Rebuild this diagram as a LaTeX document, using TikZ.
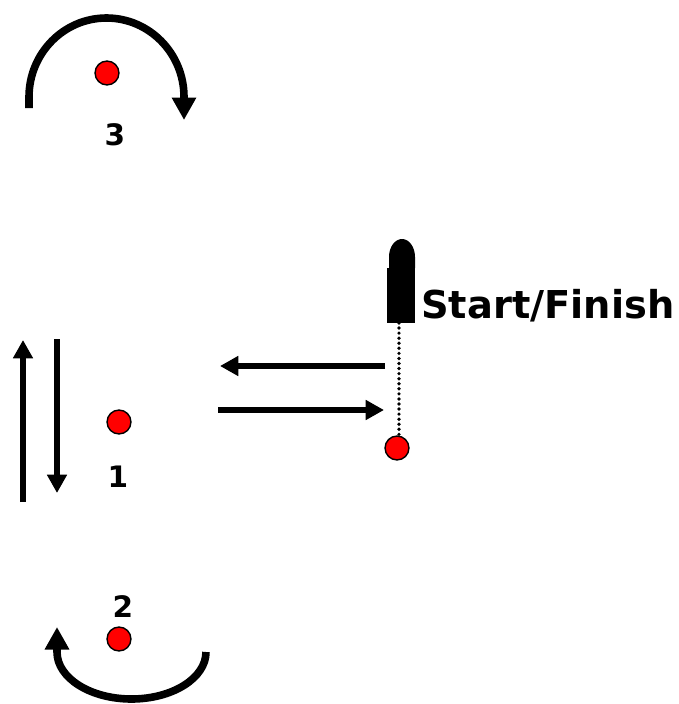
\documentclass[tikz,border=0pt]{standalone}
\usepackage{fontspec}
\setmainfont{DejaVu Sans}
\usetikzlibrary{arrows.meta}

\begin{document}
\begin{tikzpicture}[x=0.025cm, y=0.025cm, >={Triangle[length=13pt,width=13.5pt]},
		cone/.style={circle, draw, fill=red, line width=1pt, minimum size=17pt, inner sep=0pt},
		run/.style={->, line width=4.6pt},
		turn/.style={-{Triangle[length=16pt,width=16.5pt]}, line width=5.4pt},
		num/.style={font=\fontsize{21}{21}\selectfont\bfseries, inner sep=0pt}]
		\useasboundingbox (0,0) rectangle (678,-704);

		\node[cone] (cone3) at (107,-73) {};
		\node[cone] (cone1) at (119,-422) {};
		\node[cone] (cone2) at (119,-639) {};
		\node[cone] (start) at (397,-448) {};

		\node[num] (num3) at (115,-134.5) {3};
		\node[num] (num1) at (118,-477) {1};
		\node[num] (num2) at (123,-607) {2};

		\fill (387,-323) rectangle (415,-268);
		\fill (389,-268) -- (389,-257) arc[start angle=180, end angle=0, x radius=13, y radius=18] -- (415,-268) -- cycle;
		\coordinate (post) at (399,-323);
		\node[anchor=base west, inner sep=0pt, font=\fontsize{27.3}{27}\selectfont\bfseries] (finish) at (421,-318) {Start/Finish};
		\draw[line width=2.6pt, dash pattern=on 0pt off 3.6pt, line cap=round] (post) -- (post|-start.north);

		\draw[run] (385,-366) -- (220,-366);
		\draw[run] (218,-410) -- (384,-410);
		\draw[run] (23,-502) -- (23,-340);
		\draw[run] (57,-339) -- (57,-493);

		\draw[turn] (29,-108) -- (29,-97) arc[start angle=180, end angle=0, x radius=77.5, y radius=79] -- (184,-120);
		\draw[turn] (206,-652) arc[start angle=0, end angle=-180, x radius=74.5, y radius=47] -- (57,-627);
	\end{tikzpicture}
\end{document}
